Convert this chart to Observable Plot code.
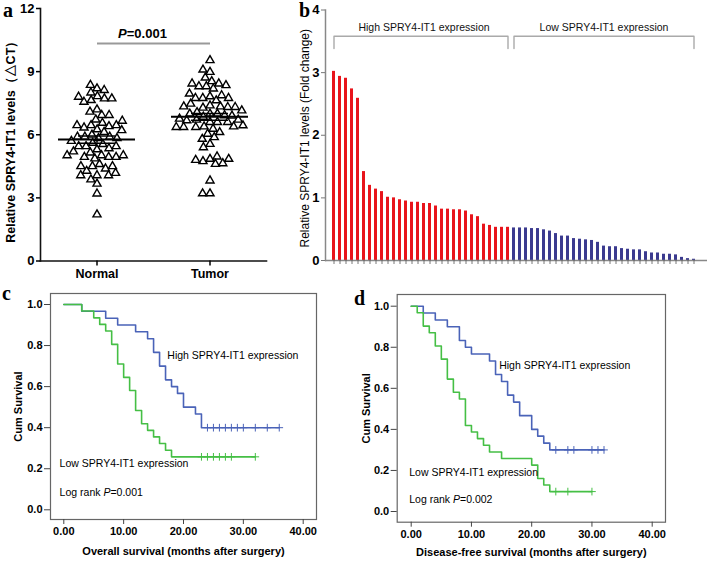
<!DOCTYPE html>
<html><head><meta charset="utf-8">
<script src="https://cdn.jsdelivr.net/npm/d3@7"></script>
<script src="https://cdn.jsdelivr.net/npm/@observablehq/plot@0.6"></script>
<style>
body{margin:0;background:#fff;}
#fig{position:relative;width:709px;height:561px;overflow:hidden;background:#fff;}
.lab{position:absolute;font-family:"Liberation Serif","Times New Roman",serif;font-weight:bold;font-size:20px;line-height:1;}
</style></head><body><div id="fig"></div>
<script>
// ---------- Panel a data ----------
const groups = ["Normal", "Tumor"];
const normalValues = [8.2, 8.36, 8.12, 8.0, 7.83, 7.72, 7.64, 7.56, 7.72, 7.8, 7.2, 7.09, 6.93, 6.93, 6.72,
  6.56, 6.45, 6.4, 6.34, 6.45, 6.45, 6.66, 6.25, 6.13, 6.21, 6.0, 5.9, 5.83, 5.9, 5.9, 5.83, 5.7, 5.61,
  5.55, 5.45, 5.3, 5.35, 5.45, 5.45, 5.2, 5.15, 5.02, 4.94, 4.94, 4.87, 4.94, 5.02, 5.02, 4.6, 4.5, 4.39,
  4.28, 4.5, 4.5, 4.07, 4.07, 4.07, 4.18, 3.67, 3.87, 3.2, 2.21];
const tumorValues = [9.54, 8.98, 9.09, 8.71, 8.54, 8.43, 8.3, 8.19, 8.3, 8.35, 8.43, 7.82, 7.74, 7.63, 7.87,
  7.74, 7.74, 7.95, 7.39, 7.28, 7.34, 7.47, 7.31, 7.31, 7.34, 7.0, 7.07, 7.0, 7.15, 7.0, 6.92, 6.85, 6.9,
  6.71, 6.6, 6.6, 6.68, 6.6, 6.71, 6.76, 6.39, 6.28, 6.36, 6.39, 6.44, 6.36, 6.36, 6.04, 6.12, 5.88, 5.8,
  5.56, 5.4, 4.85, 4.74, 4.61, 4.64, 4.8, 4.85, 4.96, 3.82, 3.21, 3.21];
const groupMeans = [5.77, 6.85];
const groupSEM = [0.17, 0.16];
const aTicks = [0, 3, 6, 9, 12];
const aLabel = "Relative SPRY4-IT1 levels（△CT）";
const aPText = "P=0.001";

// ---------- Panel b data ----------
const barGroupNames = ["High SPRY4-IT1 expression", "Low SPRY4-IT1 expression"];
const highBarValues = [3.02, 2.94, 2.91, 2.74, 2.59, 1.42, 1.20, 1.14, 1.10, 1.01, 1.00, 0.97, 0.95, 0.93, 0.93,
  0.91, 0.91, 0.87, 0.82, 0.82, 0.81, 0.81, 0.79, 0.73, 0.70, 0.58, 0.56, 0.53, 0.53, 0.53];
const lowBarValues = [0.52, 0.52, 0.52, 0.51, 0.51, 0.49, 0.47, 0.43, 0.39, 0.39, 0.35, 0.34, 0.33, 0.32, 0.29,
  0.23, 0.22, 0.22, 0.19, 0.18, 0.17, 0.17, 0.14, 0.12, 0.12, 0.10, 0.10, 0.09, 0.05, 0.03, 0.02];
const bTicks = [0, 1, 2, 3, 4];
const bLabel = "Relative SPRY4-IT1 levels (Fold change)";

// ---------- Panel c data (overall survival) ----------
const osHighTime = [0, 3, 7, 9, 12, 14, 15, 16, 17, 18, 19, 20, 22, 23, 36];
const osHighSurv = [1, 0.967, 0.933, 0.9, 0.867, 0.833, 0.767, 0.7, 0.633, 0.6, 0.567, 0.5, 0.467, 0.4, 0.4];
const osHighCensor = [24, 25, 26, 27, 28, 29, 30, 32, 34, 36];
const osLowTime = [0, 3, 5, 6, 7, 8, 9, 10, 11, 12, 13, 14, 15, 16, 17, 18, 32];
const osLowSurv = [1, 0.968, 0.935, 0.903, 0.871, 0.806, 0.71, 0.645, 0.581, 0.484, 0.419, 0.387, 0.355, 0.323, 0.29, 0.258, 0.258];
const osLowCensor = [23, 24, 25, 26, 27, 28, 32];
const osTitle = "Overall survival (months after surgery)";
const osP = "Log rank P=0.001";

// ---------- Panel d data (disease-free survival) ----------
const dfsHighTime = [0, 2, 4, 6, 8, 9, 10, 13, 14, 15, 16, 17, 18, 20, 21, 22, 23, 32];
const dfsHighSurv = [1, 0.967, 0.933, 0.9, 0.833, 0.8, 0.767, 0.733, 0.667, 0.633, 0.567, 0.533, 0.467, 0.4, 0.367, 0.333, 0.3, 0.3];
const dfsHighCensor = [24, 26, 27, 30, 31, 32];
const dfsLowTime = [0, 1, 2, 3, 4, 5, 6, 7, 8, 9, 10, 11, 12, 13, 15, 20, 21, 22, 23, 30];
const dfsLowSurv = [1, 0.968, 0.903, 0.871, 0.806, 0.742, 0.645, 0.581, 0.548, 0.419, 0.387, 0.355, 0.323, 0.29, 0.258, 0.226, 0.161, 0.129, 0.097, 0.097];
const dfsLowCensor = [24, 26, 30];
const dfsTitle = "Disease-free survival (months after surgery)";
const dfsP = "Log rank P=0.002";

const kmTicksY = [0, 0.2, 0.4, 0.6, 0.8, 1.0];
const kmTicksX = [0, 10, 20, 30, 40];
const kmLabels = ["High SPRY4-IT1 expression", "Low SPRY4-IT1 expression"];

// ---------- styling ----------
const RED = "#e8141b", NAVY = "#3b3a8f", KM_BLUE = "#4a63b8", KM_GREEN = "#45bf45";
const FONT = "'Liberation Sans', Arial, Helvetica, sans-serif";
const fig = document.getElementById("fig");
const baseStyle = {background: "transparent", fontFamily: FONT, overflow: "visible", color: "#000"};

function place(node, left, top) {
  node.style.position = "absolute";
  node.style.left = left + "px";
  node.style.top = top + "px";
  node.style.maxWidth = "none";
  fig.appendChild(node);
}
function italicP(svg) {
  d3.select(svg).selectAll("text").each(function() {
    const t = this.textContent;
    if (this.childElementCount === 0 && t.includes("P=")) {
      const i = t.indexOf("P=");
      const s = d3.select(this);
      s.text(null);
      if (i > 0) s.append("tspan").text(t.slice(0, i));
      s.append("tspan").attr("font-style", "italic").text("P");
      s.append("tspan").text(t.slice(i + 1));
    }
  });
}
function panelLetter(ch, left, top) {
  const d = document.createElement("div");
  d.className = "lab"; d.textContent = ch;
  d.style.left = left + "px"; d.style.top = top + "px";
  fig.appendChild(d);
}

// ================= Panel a =================
const scatterRows = [
  ...normalValues.map(v => ({group: groups[0], value: v})),
  ...tumorValues.map(v => ({group: groups[1], value: v}))
];
const meanRows = groups.map((g, i) => ({group: g, mean: groupMeans[i], lo: groupMeans[i] - groupSEM[i], hi: groupMeans[i] + groupSEM[i]}));
const A = {width: 300, height: 285, marginLeft: 40, marginRight: 34, marginTop: 8, marginBottom: 24.5};

const plotA = Plot.plot({
  ...A,
  style: baseStyle,
  x: {domain: groups, paddingInner: 0.32, paddingOuter: 0.16, label: null},
  y: {domain: [0, 12], label: null},
  marks: [
    Plot.frame({anchor: "left", stroke: "#111", strokeWidth: 1.6}),
    Plot.frame({anchor: "bottom", stroke: "#111", strokeWidth: 1.6}),
    Plot.axisY({ticks: aTicks, tickFormat: d3.format("d"), tickSize: 4, tickPadding: 2, fontSize: 13, fontWeight: "bold", label: null, strokeWidth: 1.5}),
    Plot.axisX({tickSize: 5, tickPadding: 3, fontSize: 12.5, fontWeight: "bold", label: null, strokeWidth: 1.5}),
    Plot.text([aLabel], {frameAnchor: "left", textAnchor: "middle", rotate: -90, dx: -30, dy: 4, fontSize: 12.5, fontWeight: "bold"}),
    Plot.tickY(meanRows, {x: "group", y: "mean", stroke: "#000", strokeWidth: 2}),
    Plot.tickY(meanRows, {x: "group", y: "lo", stroke: "#000", strokeWidth: 1.5, insetLeft: 20, insetRight: 20}),
    Plot.tickY(meanRows, {x: "group", y: "hi", stroke: "#000", strokeWidth: 1.5, insetLeft: 20, insetRight: 20}),
    Plot.ruleX(meanRows, {x: "group", y1: "lo", y2: "hi", stroke: "#000", strokeWidth: 1.5}),
    Plot.link([aPText], {x1: () => groups[0], x2: () => groups[1], y1: () => 10.34, y2: () => 10.34, stroke: "#999", strokeWidth: 2}),
    Plot.text([aPText], {y: () => 10.82, text: d => d, dx: -11, fontSize: 13, fontWeight: "bold"})
  ]
});
italicP(plotA);
place(plotA, 0, 0);

// dots overlay, placed by Plot's dodge layout inside each group facet
const plotA2 = Plot.plot({
  ...A,
  style: baseStyle,
  fx: {domain: groups, paddingInner: 0, paddingOuter: 0, axis: null, label: null},
  y: {domain: [0, 12], axis: null},
  marks: [
    Plot.dot(scatterRows, Plot.dodgeX({anchor: "middle", padding: 1.4},
      {y: "value", fx: "group", r: 3, symbol: "triangle", stroke: "#000", fill: "none", strokeWidth: 1.4}))
  ]
});
place(plotA2, 0, 0);

// ================= Panel b =================
const barRows = [
  ...highBarValues.map((v, i) => ({idx: i, value: v, group: "High"})),
  ...lowBarValues.map((v, i) => ({idx: highBarValues.length + i, value: v, group: "Low"}))
];
const nHigh = highBarValues.length, nAll = barRows.length;
const bracketRows = [];
[[0, nHigh - 1, "High"], [nHigh, nAll - 1, "Low"]].forEach(([a, b, g]) => {
  bracketRows.push({idx: a, y: 3.385, g}, {idx: a, y: 3.58, g}, {idx: b, y: 3.58, g}, {idx: b, y: 3.385, g});
});
const bracketText = [
  {idx: Math.round((nHigh - 1) / 2), text: barGroupNames[0]},
  {idx: Math.round((nHigh + nAll - 1) / 2), text: barGroupNames[1]}
];
const plotB = Plot.plot({
  width: 409, height: 285, marginLeft: 25, marginRight: 2, marginTop: 9.5, marginBottom: 25,
  style: baseStyle,
  x: {type: "band", domain: barRows.map(d => d.idx), range: [25, 403], paddingInner: 0.46, paddingOuter: 0.545, label: null},
  y: {domain: [0, 4], label: null},
  color: {domain: ["High", "Low"], range: [RED, NAVY]},
  marks: [
    Plot.barY(barRows, {x: "idx", y: "value", fill: "group"}),
    Plot.frame({anchor: "left", stroke: "#888", strokeWidth: 1.5}),
    Plot.ruleY([0], {stroke: "#888", strokeWidth: 1.5}),
    Plot.axisY({ticks: bTicks, tickFormat: d3.format("d"), tickSize: 4, tickPadding: 2, fontSize: 13, fontWeight: "bold", label: null, stroke: "#777"}),
    Plot.axisX({tickSize: 4, tickPadding: 0, tickFormat: () => "", label: null, stroke: "#555", strokeWidth: 0.8}),
    Plot.line(bracketRows, {x: "idx", y: "y", z: "g", stroke: "#aaa", strokeWidth: 1.4}),
    Plot.text(bracketText, {x: "idx", y: () => 3.72, text: "text", fontSize: 10.5, fill: "#111"}),
    Plot.text([bLabel], {frameAnchor: "left", textAnchor: "middle", rotate: -90, dx: -20, dy: 3, fontSize: 12})
  ]
});
place(plotB, 300, 0);

// ================= Panels c, d =================
function survivalAt(times, surv, t) {
  let s = surv[0];
  for (let i = 0; i < times.length; i++) if (times[i] <= t) s = surv[i];
  return s;
}
function kmPanel(cfg) {
  const rows = [
    ...cfg.highT.map((t, i) => ({t, s: cfg.highS[i], curve: "High"})),
    ...cfg.lowT.map((t, i) => ({t, s: cfg.lowS[i], curve: "Low"}))
  ];
  const censors = [
    ...cfg.highC.map(t => ({t, s: survivalAt(cfg.highT, cfg.highS, t), curve: "High"})),
    ...cfg.lowC.map(t => ({t, s: survivalAt(cfg.lowT, cfg.lowS, t), curve: "Low"}))
  ];
  const p = Plot.plot({
    width: cfg.width, height: cfg.height,
    marginLeft: cfg.ml, marginRight: cfg.mr, marginTop: cfg.mt, marginBottom: cfg.mb,
    style: baseStyle,
    x: {domain: [0, 40], range: cfg.xr, label: null},
    y: {domain: [0, 1], range: cfg.yr, label: null},
    color: {domain: ["High", "Low"], range: [KM_BLUE, KM_GREEN]},
    marks: [
      Plot.frame({stroke: "#666", strokeWidth: 1.2}),
      Plot.axisY({ticks: kmTicksY, tickFormat: d3.format(".1f"), tickSize: 6, tickPadding: 2, fontSize: 11, fontWeight: "bold", label: null, stroke: "#444"}),
      Plot.axisX({ticks: kmTicksX, tickFormat: d3.format(".2f"), tickSize: 5, tickPadding: 3, fontSize: 11, fontWeight: "bold", label: null, stroke: "#444"}),
      Plot.line(rows, {x: "t", y: "s", z: "curve", stroke: "curve", curve: "step-after", strokeWidth: 1.6}),
      Plot.dot(censors, {x: "t", y: "s", stroke: "curve", symbol: "plus", r: 2.6, strokeWidth: 1}),
      Plot.text([kmLabels[0]], {x: () => cfg.highPos[0], y: () => cfg.highPos[1], textAnchor: "start", fontSize: 10.5}),
      Plot.text([kmLabels[1]], {x: () => cfg.lowPos[0], y: () => cfg.lowPos[1], textAnchor: "start", fontSize: 10.5}),
      Plot.text([cfg.pText], {x: () => cfg.pPos[0], y: () => cfg.pPos[1], textAnchor: "start", fontSize: 10.5}),
      Plot.text([cfg.title], {frameAnchor: "bottom", dy: cfg.titleDy, fontSize: 11, fontWeight: "bold"}),
      Plot.text(["Cum Survival"], {frameAnchor: "left", textAnchor: "middle", rotate: -90, dx: cfg.ylabDx, fontSize: 11, fontWeight: "bold"})
    ]
  });
  italicP(p);
  return p;
}

const plotC = kmPanel({
  highT: osHighTime, highS: osHighSurv, highC: osHighCensor,
  lowT: osLowTime, lowS: osLowSurv, lowC: osLowCensor,
  title: osTitle, pText: osP,
  width: 350, height: 276, ml: 50, mr: 34, mt: 8, mb: 42,
  xr: [63.3, 302.7], yr: [224.3, 19],
  highPos: [17.3, 0.75], lowPos: [-0.7, 0.225], pPos: [-0.7, 0.084],
  titleDy: 35, ylabDx: -32
});
place(plotC, 0, 285);

const plotD = kmPanel({
  highT: dfsHighTime, highS: dfsHighSurv, highC: dfsHighCensor,
  lowT: dfsLowTime, lowS: dfsLowSurv, lowC: dfsLowCensor,
  title: dfsTitle, pText: dfsP,
  width: 354, height: 276, ml: 41.7, mr: 44, mt: 9, mb: 39.3,
  xr: [55.7, 296.7], yr: [226, 20.7],
  highPos: [14.6, 0.711], lowPos: [-0.33, 0.191], pPos: [-0.33, 0.058],
  titleDy: 34, ylabDx: -31
});
place(plotD, 355, 285);

panelLetter("a", 3, 0);
panelLetter("b", 299, 0);
panelLetter("c", 2, 283);
panelLetter("d", 354, 288);
</script></body></html>
